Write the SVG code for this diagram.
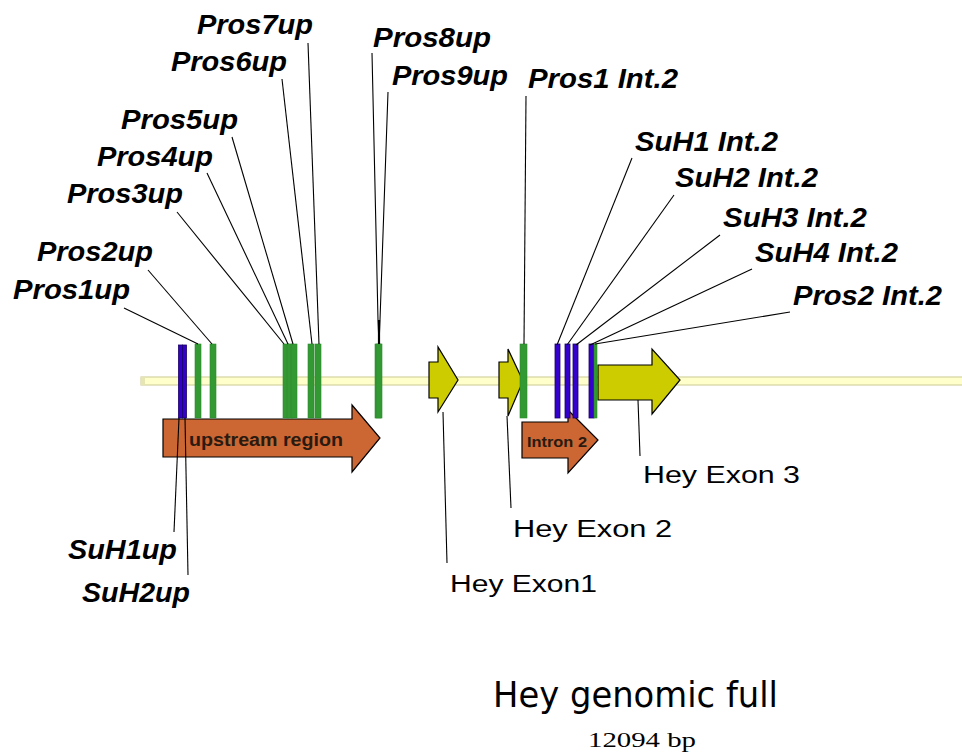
<svg xmlns="http://www.w3.org/2000/svg" width="962" height="753" viewBox="0 0 962 753">
<style>
.lb{font-family:"Liberation Sans",Arial,sans-serif;font-weight:bold;font-style:italic;font-size:27px;fill:#000}
.ex{font-family:"Liberation Sans",Arial,sans-serif;font-size:23px;fill:#000}
.gr{fill:#339933;stroke:#2e8a2e;stroke-width:0.6}
.bl{fill:#3300cc;stroke:#1a0066;stroke-width:0.8}
.yel{fill:#cccc00;stroke:#000;stroke-width:1.2}
.org{fill:#cc6633;stroke:#000;stroke-width:1.2}
.ld{stroke:#000;stroke-width:1.1;fill:none}
</style>
<rect width="962" height="753" fill="#fff"/>
<g id="backbone">
<rect x="141" y="377" width="825" height="8" fill="#ffffcc" stroke="#d4d4a0" stroke-width="1.2"/>
<rect x="141" y="377" width="4" height="8" fill="#e6e6b4"/>
</g>
<g id="upstream-region">
<polygon class="org" points="163,419 352,419 352,405 380,438 352,472 352,457 163,457"/>
<text x="189" y="446" font-family="Liberation Sans,Arial,sans-serif" font-weight="bold" font-size="18" fill="#2a1a10" textLength="154" lengthAdjust="spacingAndGlyphs">upstream region</text>
</g>
<g id="intron2">
<polygon class="org" points="522,422 568,422 568,410 598,440 568,473 568,458 522,458"/>
<text x="527" y="447" font-family="Liberation Sans,Arial,sans-serif" font-weight="bold" font-size="14" fill="#2a1a10" textLength="60" lengthAdjust="spacingAndGlyphs">Intron 2</text>
</g>
<g id="hey-exon1">
<polygon class="yel" points="429,362 438,362 438,347 458,380 438,412 438,398 429,398"/>
<text class="ex" x="450" y="592" textLength="147" lengthAdjust="spacingAndGlyphs">Hey Exon1</text>
</g>
<g id="hey-exon2">
<polygon class="yel" points="499,362 508,362 508,349 523,381 508,416 508,398 499,398"/>
<text class="ex" x="513" y="537" textLength="159" lengthAdjust="spacingAndGlyphs">Hey Exon 2</text>
</g>
<g id="hey-exon3">
<polygon class="yel" points="598,365 652,365 652,349 680,380 652,414 652,400 598,400"/>
<text class="ex" x="643" y="483" textLength="157" lengthAdjust="spacingAndGlyphs">Hey Exon 3</text>
</g>
<g id="suh1up"><rect class="bl" x="178.5" y="345" width="4" height="73"/><text class="lb" x="68" y="559" textLength="109" lengthAdjust="spacingAndGlyphs">SuH1up</text></g>
<g id="suh2up"><rect class="bl" x="182.5" y="345" width="4" height="73"/><text class="lb" x="82" y="602" textLength="108" lengthAdjust="spacingAndGlyphs">SuH2up</text></g>
<g id="pros1up"><rect class="gr" x="195" y="344" width="6" height="74"/><text class="lb" x="13" y="299" textLength="117" lengthAdjust="spacingAndGlyphs">Pros1up</text></g>
<g id="pros2up"><rect class="gr" x="210" y="344" width="6" height="74"/><text class="lb" x="37" y="261" textLength="116" lengthAdjust="spacingAndGlyphs">Pros2up</text></g>
<g id="pros3up"><rect class="gr" x="283" y="344" width="6" height="74"/><text class="lb" x="67" y="203" textLength="116" lengthAdjust="spacingAndGlyphs">Pros3up</text></g>
<g id="pros4up"><rect class="gr" x="287" y="344" width="6" height="74"/><text class="lb" x="97" y="166" textLength="116" lengthAdjust="spacingAndGlyphs">Pros4up</text></g>
<g id="pros5up"><rect class="gr" x="291" y="344" width="6" height="74"/><text class="lb" x="121" y="129" textLength="117" lengthAdjust="spacingAndGlyphs">Pros5up</text></g>
<g id="pros6up"><rect class="gr" x="308" y="344" width="6" height="74"/><text class="lb" x="171" y="71" textLength="116" lengthAdjust="spacingAndGlyphs">Pros6up</text></g>
<g id="pros7up"><rect class="gr" x="315" y="344" width="6" height="74"/><text class="lb" x="197" y="34" textLength="116" lengthAdjust="spacingAndGlyphs">Pros7up</text></g>
<g id="pros8up"><rect class="gr" x="375" y="344" width="6" height="74"/><text class="lb" x="373" y="47" textLength="118" lengthAdjust="spacingAndGlyphs">Pros8up</text></g>
<g id="pros9up"><rect class="gr" x="376" y="344" width="6" height="74"/><text class="lb" x="392" y="85" textLength="116" lengthAdjust="spacingAndGlyphs">Pros9up</text></g>
<g id="pros1-int2"><rect class="gr" x="520" y="344" width="7" height="74"/><text class="lb" x="528" y="88" textLength="150" lengthAdjust="spacingAndGlyphs">Pros1 Int.2</text></g>
<g id="suh1-int2"><rect class="bl" x="555" y="344" width="5" height="74"/><text class="lb" x="635" y="151" textLength="143" lengthAdjust="spacingAndGlyphs">SuH1 Int.2</text></g>
<g id="suh2-int2"><rect class="bl" x="565" y="344" width="5" height="74"/><text class="lb" x="675" y="187" textLength="143" lengthAdjust="spacingAndGlyphs">SuH2 Int.2</text></g>
<g id="suh3-int2"><rect class="bl" x="573" y="344" width="5" height="74"/><text class="lb" x="723" y="227" textLength="144" lengthAdjust="spacingAndGlyphs">SuH3 Int.2</text></g>
<g id="suh4-int2"><rect class="bl" x="589" y="344" width="5" height="74"/><text class="lb" x="755" y="262" textLength="143" lengthAdjust="spacingAndGlyphs">SuH4 Int.2</text></g>
<g id="pros2-int2"><rect class="gr" x="594" y="344" width="3" height="74"/><text class="lb" x="793" y="305" textLength="149" lengthAdjust="spacingAndGlyphs">Pros2 Int.2</text></g>
<g id="connectors">
<line class="ld" x1="124" y1="308" x2="198" y2="344"/>
<line class="ld" x1="148" y1="270" x2="212" y2="344"/>
<line class="ld" x1="177" y1="212" x2="284" y2="344"/>
<line class="ld" x1="207" y1="173" x2="288" y2="344"/>
<line class="ld" x1="232" y1="137" x2="293" y2="344"/>
<line class="ld" x1="282" y1="79" x2="312" y2="344"/>
<line class="ld" x1="308" y1="43" x2="319" y2="344"/>
<polyline class="ld" points="372,53 378,320 379,344"/>
<polyline class="ld" points="388,92 380,320 379,344"/>
<line x1="379" y1="320" x2="379" y2="344" stroke="#000" stroke-width="2.2"/>
<line class="ld" x1="526" y1="96" x2="524" y2="344"/>
<line class="ld" x1="632" y1="158" x2="557" y2="345"/>
<line class="ld" x1="674" y1="195" x2="567" y2="345"/>
<line class="ld" x1="720" y1="235" x2="576" y2="345"/>
<line class="ld" x1="752" y1="269" x2="590" y2="345"/>
<line class="ld" x1="790" y1="312" x2="595" y2="344"/>
<line class="ld" x1="179" y1="418" x2="174" y2="532"/>
<line class="ld" x1="185" y1="418" x2="188" y2="575"/>
<line class="ld" x1="443" y1="412" x2="447" y2="563"/>
<line class="ld" x1="507" y1="416" x2="511" y2="508"/>
<line class="ld" x1="638" y1="400" x2="640" y2="456"/>
</g>
<g id="title">
<text x="493" y="707" font-family="DejaVu Sans,Verdana,sans-serif" font-size="36" fill="#000" textLength="285" lengthAdjust="spacingAndGlyphs">Hey genomic full</text>
<text x="588" y="747" font-family="Liberation Serif,Georgia,serif" font-size="22" fill="#000" textLength="108" lengthAdjust="spacingAndGlyphs">12094 bp</text>
</g>
</svg>
